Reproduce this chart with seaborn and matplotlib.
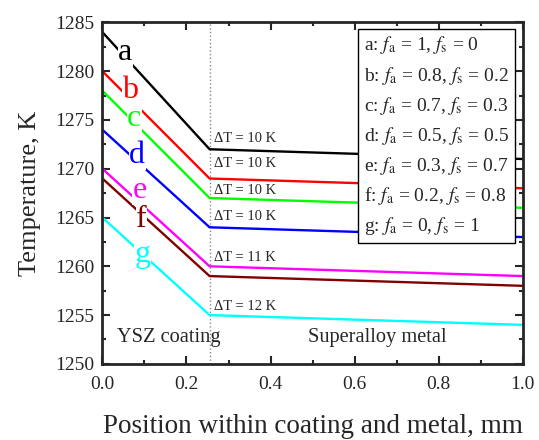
import matplotlib
matplotlib.use('Agg')
import matplotlib.pyplot as plt
import seaborn as sns
import pandas as pd
from matplotlib.lines import Line2D
from matplotlib.ticker import MultipleLocator

# positions (mm): surface, coating/metal interface, metal back
x_pos = [0.0, 0.255, 1.0]
letters = ['a', 'b', 'c', 'd', 'e', 'f', 'g']
temp_a = [1284, 1272, 1271]
temp_b = [1280, 1269, 1268]
temp_c = [1278, 1267, 1266]
temp_d = [1274, 1264, 1263]
temp_e = [1270, 1260, 1259]
temp_f = [1269, 1259, 1258]
temp_g = [1265, 1255, 1254]
legend_labels = [
    r'a: $f_{\rm a}$ = 1, $f_{\rm s}$ = 0',
    r'b: $f_{\rm a}$ = 0.8, $f_{\rm s}$ = 0.2',
    r'c: $f_{\rm a}$ = 0.7, $f_{\rm s}$ = 0.3',
    r'd: $f_{\rm a}$ = 0.5, $f_{\rm s}$ = 0.5',
    r'e: $f_{\rm a}$ = 0.3, $f_{\rm s}$ = 0.7',
    r'f: $f_{\rm a}$ = 0.2, $f_{\rm s}$ = 0.8',
    r'g: $f_{\rm a}$ = 0, $f_{\rm s}$ = 1',
]
delta_t = ['10', '10', '10', '10', '11', '12']
delta_y = [1273.1, 1270.5, 1267.8, 1265.1, 1260.9, 1255.9]
letter_x = [0.054, 0.066, 0.076, 0.083, 0.088, 0.093, 0.096]
letter_y = [1281.9, 1278.0, 1275.2, 1271.4, 1267.8, 1264.8, 1261.2]
colors = ['#000000', '#ff0000', '#00ff00', '#0000ff', '#ff00ff', '#800000', '#00ffff']

all_temps = [temp_a, temp_b, temp_c, temp_d, temp_e, temp_f, temp_g]
rows = []
for lab, temps in zip(letters, all_temps):
    for x, t in zip(x_pos, temps):
        rows.append({'pos': x, 'temp': t, 'case': lab})
df = pd.DataFrame(rows)

sns.set_theme(style='ticks')
plt.rcParams['font.family'] = ['Liberation Serif', 'DejaVu Serif']
plt.rcParams['mathtext.fontset'] = 'stix'
plt.rcParams['xtick.direction'] = 'in'
plt.rcParams['ytick.direction'] = 'in'

fig = plt.figure(figsize=(5.39, 4.40), dpi=100)
ax = fig.add_axes([0.190, 0.173, 0.780, 0.776])

sns.lineplot(data=df, x='pos', y='temp', hue='case', palette=colors,
             linewidth=1.7, legend=False, ax=ax, sort=False)

ax.axvline(x_pos[1], color='#888888', linestyle=':', linewidth=1.0, zorder=0)

for lx, ly, lab, c in zip(letter_x, letter_y, letters, colors):
    ax.text(lx, ly, lab, color=c, fontsize=23, ha='center', va='center',
            bbox=dict(facecolor='white', edgecolor='none', pad=0.2))

for dt, dy in zip(delta_t, delta_y):
    ax.text(0.265, dy, '\u0394T = ' + dt + ' K', fontsize=10.5, ha='left', va='center')

ax.text(0.035, 1252.7, 'YSZ coating', fontsize=14.7, ha='left', va='center')
ax.text(0.654, 1252.7, 'Superalloy metal', fontsize=14.7, ha='center', va='center')

handles = [Line2D([], [], linewidth=0) for _ in legend_labels]
leg = ax.legend(handles, legend_labels, loc='upper right', bbox_to_anchor=(0.981, 0.982),
                borderaxespad=0, handlelength=0, handletextpad=0, fontsize=14,
                frameon=True, fancybox=False, framealpha=1, edgecolor='black',
                labelspacing=0.42, borderpad=0.3)
leg.get_frame().set_linewidth(1.0)

ax.set_xlim(0, 1.0)
ax.set_ylim(1250, 1285)
ax.xaxis.set_major_locator(MultipleLocator(0.2))
ax.xaxis.set_minor_locator(MultipleLocator(0.1))
ax.yaxis.set_major_locator(MultipleLocator(5))
ax.yaxis.set_minor_locator(MultipleLocator(2.5))
ax.xaxis.set_major_formatter(plt.FormatStrFormatter('%.1f'))
ax.tick_params(which='both', top=True, right=True, labelsize=14, width=1.5)
ax.tick_params(which='major', length=6)
ax.tick_params(which='minor', length=3)
ax.tick_params(axis='x', which='major', pad=9)
ax.tick_params(axis='y', which='major', pad=6)
for s in ax.spines.values():
    s.set_linewidth(2.0)

ax.set_xlabel('Position within coating and metal, mm', fontsize=19.5, labelpad=15)
ax.set_ylabel('Temperature, K', fontsize=19, labelpad=10)

fig.savefig('out.png', dpi=100)
